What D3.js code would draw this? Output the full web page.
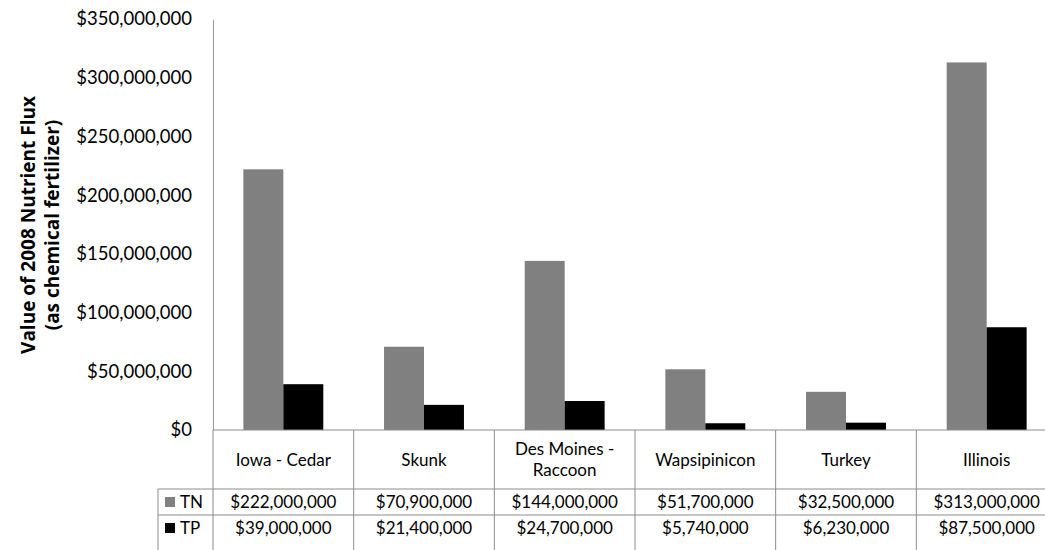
<!DOCTYPE html>
<html>
<head>
<meta charset="UTF-8">
<script src="https://d3js.org/d3.v7.min.js"></script>
<style>
  body { margin: 0; background: #fff; font-family: Lato, Arial, sans-serif; }
  svg text { fill: #000; font-family: Lato, Arial, sans-serif; }
</style>
</head>
<body>
<svg width="1045" height="550"></svg>
<script>
// data
const categories = ["Iowa - Cedar", "Skunk", "Des Moines - Raccoon", "Wapsipinicon", "Turkey", "Illinois"];
const tnValues = [222000000, 70900000, 144000000, 51700000, 32500000, 313000000];
const tpValues = [39000000, 21400000, 24700000, 5740000, 6230000, 87500000];
const seriesNames = ["TN", "TP"];
const seriesColors = ["#808080", "#000000"];
const yTicks = [0, 50e6, 100e6, 150e6, 200e6, 250e6, 300e6, 350e6];

const svg = d3.select("svg");
const plotL = 213, plotR = 1057, plotT = 19, plotB = 430;
const rowCat = 489, rowTN = 515, rowTP = 552, legL = 158;
const fs = 17;

const x = d3.scaleBand().domain(categories).range([plotL, plotR]);
const xs = d3.scaleBand().domain(seriesNames).range([0, x.bandwidth()]).paddingInner(0).paddingOuter(0.76);
const y = d3.scaleLinear().domain([0, 350e6]).range([plotB, plotT]);
const fmt = d3.format("$,.0f");

// y axis
const yAxis = svg.append("g").attr("transform", `translate(${plotL},0)`)
  .call(d3.axisLeft(y).tickValues(yTicks).tickFormat(fmt).tickSize(0).tickPadding(21));
yAxis.select(".domain").attr("stroke", "#9a9a9a");
yAxis.selectAll("text").attr("font-size", 18.5);

// bars
const series = [tnValues, tpValues];
series.forEach((vals, si) => {
  svg.append("g").selectAll("rect").data(categories).join("rect")
    .attr("x", c => x(c) + xs(seriesNames[si]))
    .attr("width", xs.bandwidth())
    .attr("y", (c, i) => y(vals[i]))
    .attr("height", (c, i) => plotB - y(vals[i]))
    .attr("fill", seriesColors[si]);
});

// table lines
const line = (x1, y1, x2, y2) => svg.append("line").attr("x1", x1).attr("y1", y1).attr("x2", x2).attr("y2", y2)
  .attr("stroke", "#8c8c8c").attr("stroke-width", 1);
line(plotL, plotB, plotR, plotB);
[rowCat, rowTN].forEach(r => line(legL, r, plotR, r));
categories.forEach(c => line(x(c), plotB, x(c), rowTP));
line(legL, rowCat, legL, rowTP);

// category labels
svg.append("g").selectAll("text").data(categories).join("text")
  .attr("text-anchor", "middle").attr("font-size", fs)
  .each(function(c) {
    const t = d3.select(this);
    const parts = c === "Des Moines - Raccoon" ? ["Des Moines -", "Raccoon"] : [c];
    const y0 = (plotB + rowCat) / 2 + 6 - (parts.length - 1) * 10.5;
    parts.forEach((p, k) => t.append("tspan").attr("x", x(c) + x.bandwidth() / 2).attr("y", y0 + k * 21).text(p));
  });

// value rows + legend
[rowCat, rowTN].forEach((r, si) => {
  const vals = series[si];
  svg.append("g").selectAll("text").data(categories).join("text")
    .attr("text-anchor", "middle").attr("font-size", fs)
    .attr("x", c => x(c) + x.bandwidth() / 2)
    .attr("y", r + 19)
    .text((c, i) => fmt(vals[i]));
  svg.append("rect").attr("x", legL + 7).attr("y", r + 8).attr("width", 10).attr("height", 10).attr("fill", seriesColors[si]);
  svg.append("text").attr("x", legL + 22).attr("y", r + 19).attr("font-size", fs).text(seriesNames[si]);
});

// y title
const yt = svg.append("text").attr("transform", "translate(35,225) rotate(-90)")
  .attr("text-anchor", "middle").attr("font-size", 19).attr("font-weight", "bold")
  .style("font-family", "'Open Sans', Arial, sans-serif");
yt.append("tspan").attr("x", 0).attr("y", 0).text("Value of 2008 Nutrient Flux");
yt.append("tspan").attr("x", 0).attr("y", 24).text("(as chemical fertilizer)");
</script>
</body>
</html>
